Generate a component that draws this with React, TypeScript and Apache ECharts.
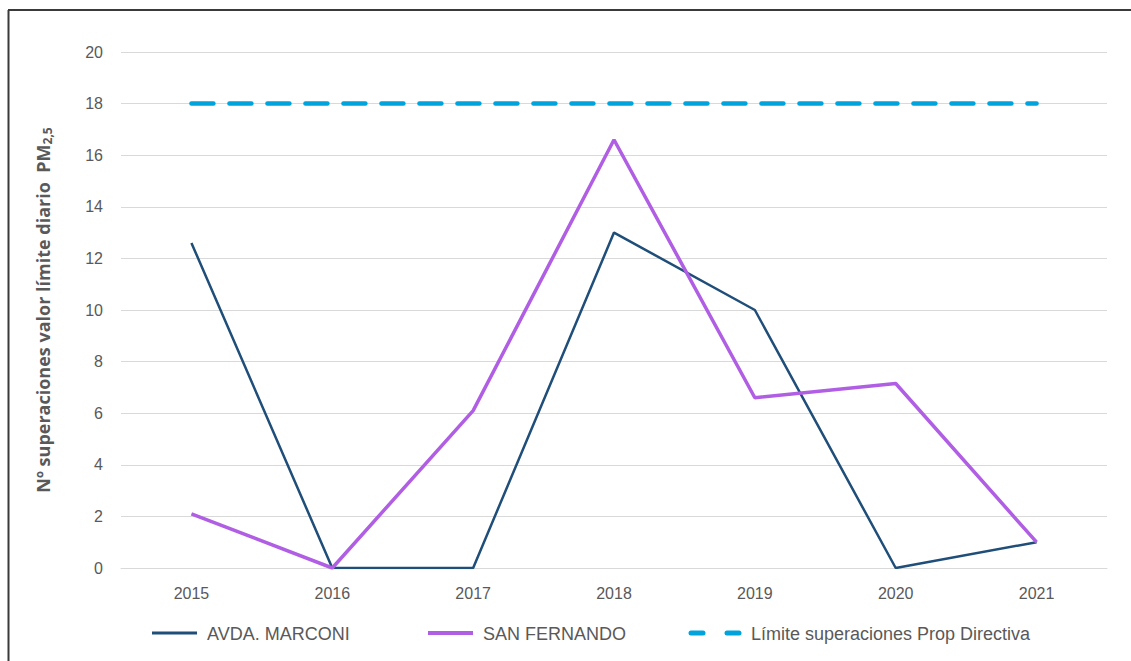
import React, { useEffect, useRef } from "react";
import * as echarts from "echarts";

const years = ["2015", "2016", "2017", "2018", "2019", "2020", "2021"];
const marconi = [12.6, 0, 0, 13, 10, 0, 1];
const sanFernando = [2.1, 0, 6.1, 16.6, 6.6, 7.15, 1];
const limite = [18, 18, 18, 18, 18, 18, 18];
const seriesNames = ["AVDA. MARCONI", "SAN FERNANDO", "Límite superaciones Prop Directiva"];
const seriesColors = ["#1f4e79", "#b05ee3", "#00a3dc"];

export default function App() {
  const ref = useRef<HTMLDivElement>(null);
  useEffect(() => {
    document.body.style.margin = "0";
    const chart = echarts.init(ref.current!, undefined, { renderer: "svg" });
    const font = "'Liberation Sans', Arial, sans-serif";
    const legendText = { color: "#595959", fontSize: 18, fontFamily: font };
    const legendLefts = [152, 428, 688];
    const legendWidths = [45, 45, 53];
    const ly = 633;
    chart.setOption({
      animation: false,
      backgroundColor: "#ffffff",
      grid: { left: 121, right: 24, top: 52, bottom: 93 },
      graphic: [
        { type: "line", shape: { x1: 8, y1: 10, x2: 1131, y2: 10 }, style: { stroke: "#3a3a3a", lineWidth: 2 } },
        { type: "line", shape: { x1: 8.5, y1: 10, x2: 8.5, y2: 661 }, style: { stroke: "#3a3a3a", lineWidth: 2 } },
        { type: "line", shape: { x1: 152, y1: ly, x2: 197, y2: ly }, style: { stroke: seriesColors[0], lineWidth: 3 } },
        { type: "line", shape: { x1: 428, y1: ly, x2: 473, y2: ly }, style: { stroke: seriesColors[1], lineWidth: 4 } },
        { type: "line", shape: { x1: 691, y1: ly, x2: 703, y2: ly }, style: { stroke: seriesColors[2], lineWidth: 5, lineCap: "round" } },
        { type: "line", shape: { x1: 727, y1: ly, x2: 739, y2: ly }, style: { stroke: seriesColors[2], lineWidth: 5, lineCap: "round" } },
      ],
      legend: seriesNames.map((n, i) => ({
        top: ly - 13,
        left: legendLefts[i],
        itemWidth: legendWidths[i],
        itemHeight: 14,
        itemGap: 0,
        textStyle: legendText,
        data: [{ name: n, icon: "none" }],
      })),
      xAxis: {
        type: "category",
        data: years,
        boundaryGap: true,
        axisLine: { show: true, lineStyle: { color: "#d9d9d9", width: 1 } },
        axisTick: { show: false },
        axisLabel: { color: "#595959", fontSize: 16, fontFamily: font, margin: 17 },
      },
      yAxis: {
        type: "value",
        min: 0,
        max: 20,
        interval: 2,
        axisLine: { show: false },
        axisTick: { show: false },
        splitLine: { lineStyle: { color: "#d9d9d9", width: 1 } },
        axisLabel: { color: "#595959", fontSize: 16, fontFamily: font, margin: 18 },
        name: "{a|Nº superaciones valor límite diario  PM}{b|2,5}",
        nameLocation: "middle",
        nameGap: 68,
        nameRotate: 90,
        nameTextStyle: {
          rich: {
            a: { fontSize: 18, fontWeight: "bold", color: "#595959", fontFamily: "'Open Sans', sans-serif" },
            b: { fontSize: 12, fontWeight: "bold", color: "#595959", fontFamily: "'Open Sans', sans-serif", padding: [9, 0, 0, 0] },
          },
        },
      },
      series: [
        {
          name: seriesNames[0],
          type: "line",
          data: marconi,
          symbol: "none",
          lineStyle: { color: seriesColors[0], width: 2.5 },
          itemStyle: { color: seriesColors[0] },
        },
        {
          name: seriesNames[1],
          type: "line",
          data: sanFernando,
          symbol: "none",
          lineStyle: { color: seriesColors[1], width: 3.5 },
          itemStyle: { color: seriesColors[1] },
        },
        {
          name: seriesNames[2],
          type: "line",
          data: limite,
          symbol: "none",
          lineStyle: { color: seriesColors[2], width: 4.5, type: [22, 16], cap: "round" },
          itemStyle: { color: seriesColors[2] },
        },
      ],
    });
    return () => chart.dispose();
  }, []);
  return <div ref={ref} style={{ width: 1131, height: 661 }} />;
}
